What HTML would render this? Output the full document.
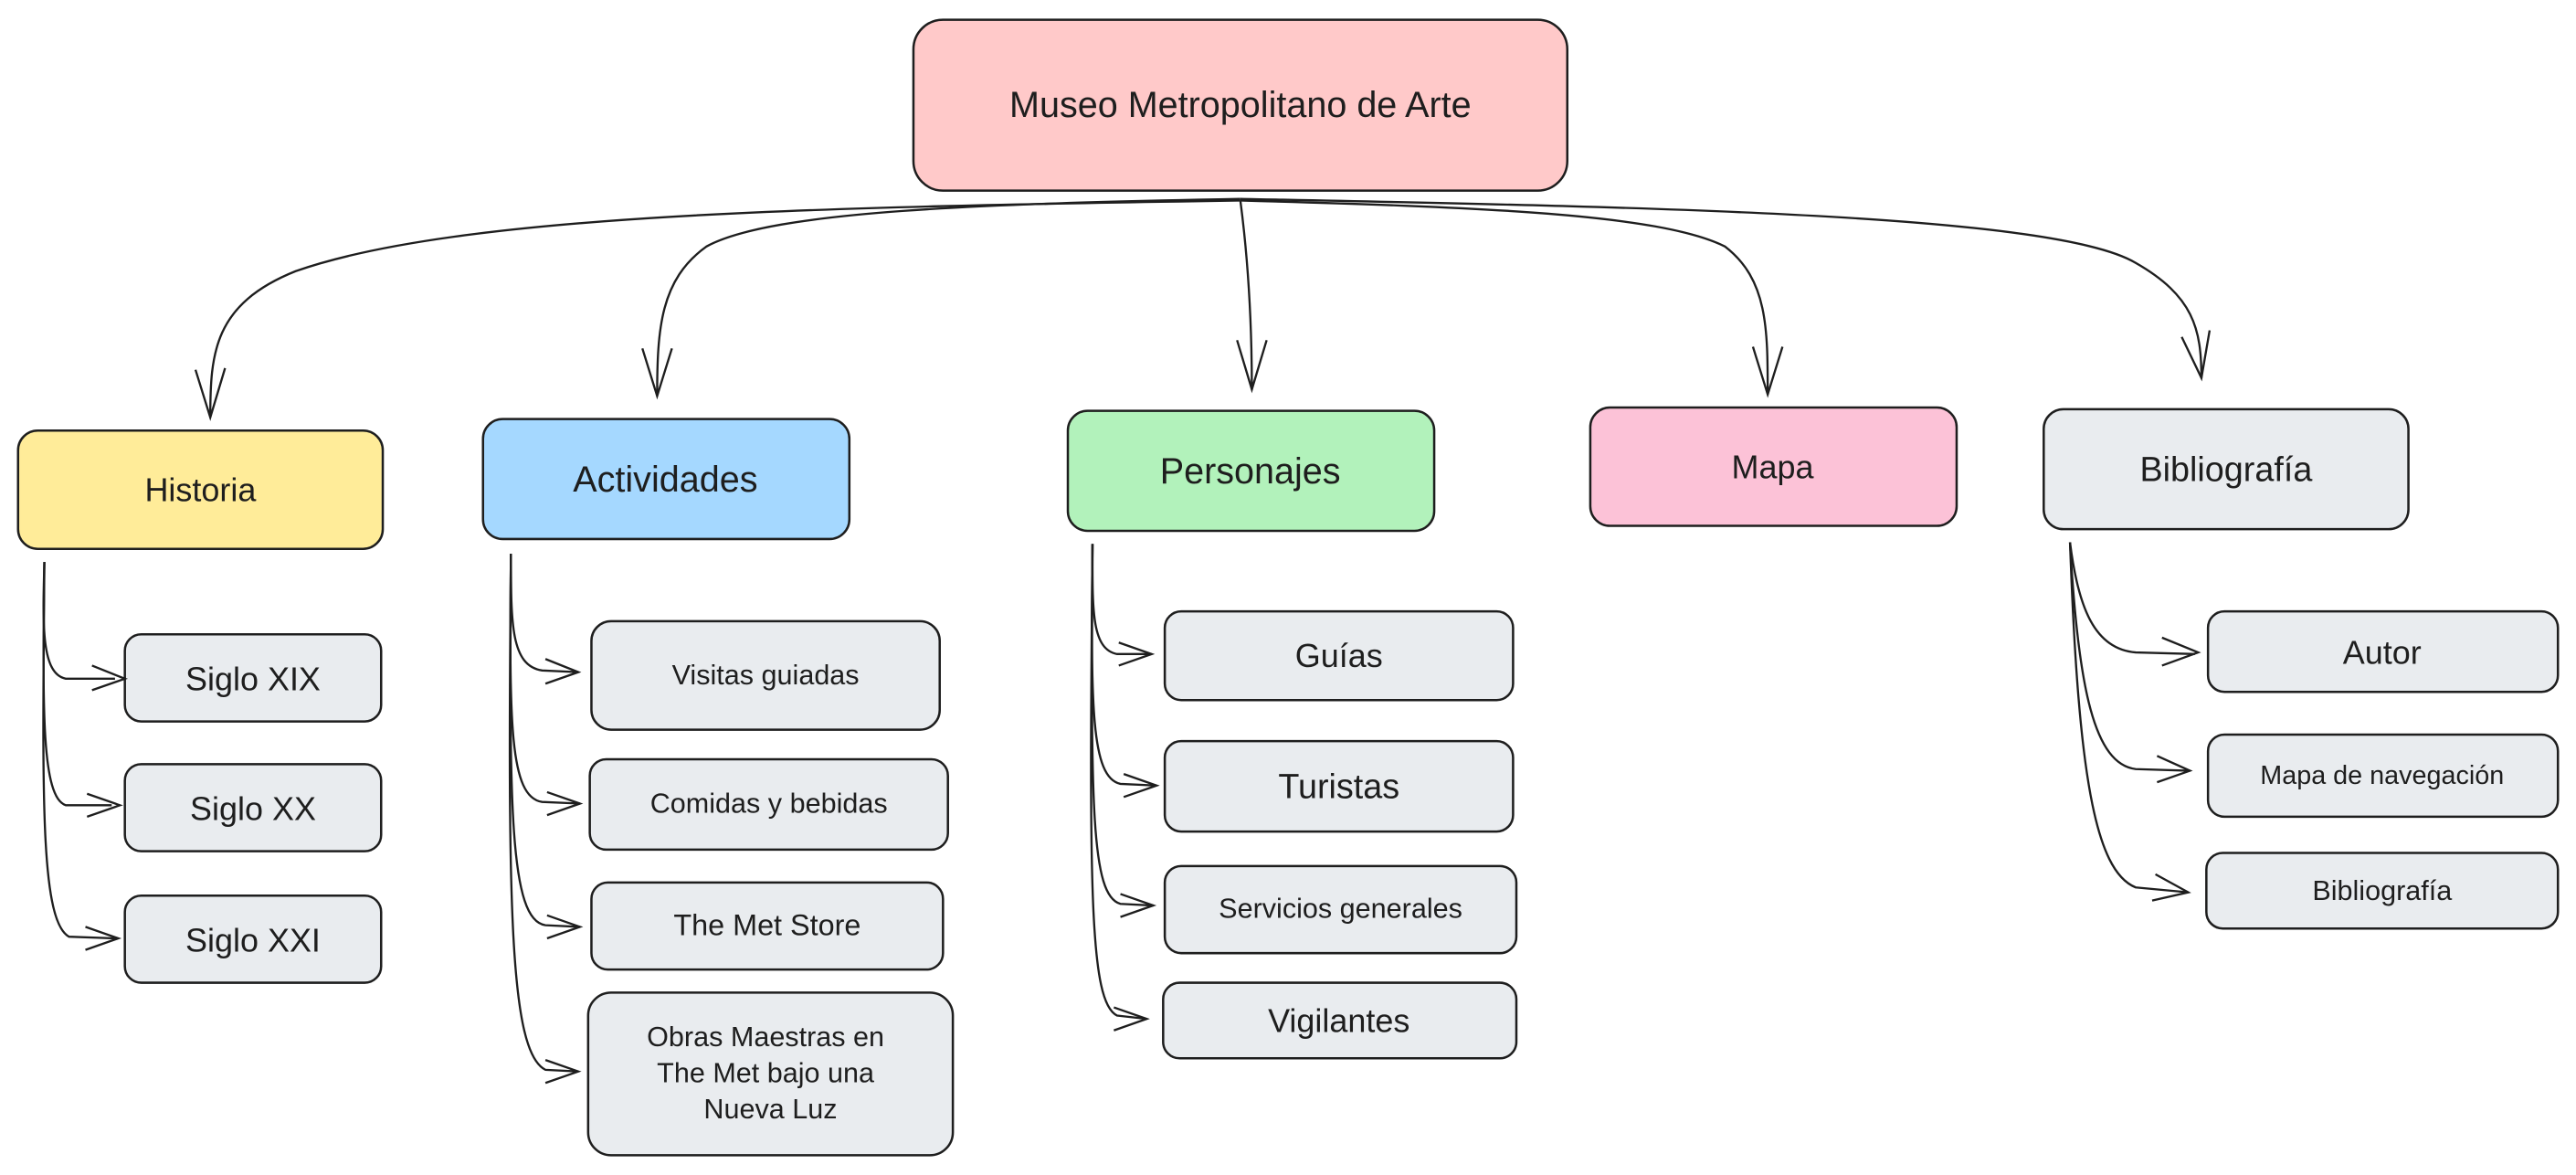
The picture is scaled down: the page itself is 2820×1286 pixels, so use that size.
<!DOCTYPE html>
<html><head><meta charset="utf-8"><style>
html,body{margin:0;padding:0;background:#fff;}
svg{display:block;}
text{font-family:"Liberation Sans",sans-serif;fill:#1e1e1e;text-anchor:middle;dominant-baseline:central;}
.b{stroke:#1e1e1e;stroke-width:1.4;}
.c{fill:none;stroke:#1e1e1e;stroke-width:1.3;}
</style></head><body>
<svg width="2820" height="1286" viewBox="0 0 1568 715" preserveAspectRatio="none" xmlns="http://www.w3.org/2000/svg">
<!-- main -->
<rect class="b" x="556" y="12" width="398" height="104" rx="18" fill="#ffc9c9"/>
<text x="755" y="64" font-size="22">Museo Metropolitano de Arte</text>
<!-- top connectors -->
<path class="c" d="M755 122 C500 126 280 130 180 165 C130 185 128 215 128 254"/>
<path class="c" d="M755 121 C600 124 470 128 430 150 C402 170 400 200 400 241"/>
<path class="c" d="M755 122 C760 160 762 200 762 237"/>
<path class="c" d="M755 122 C900 126 1010 130 1050 150 C1076 170 1076 200 1076 240"/>
<path class="c" d="M755 121 C1000 126 1250 130 1300 160 C1335 180 1340 200 1340 230"/>
<path class="c" d="M119 225 L128 254 L137 224"/>
<path class="c" d="M391 212 L400 241 L409 212"/>
<path class="c" d="M753 207 L762 237 L771 207"/>
<path class="c" d="M1067 211 L1076 240 L1085 211"/>
<path class="c" d="M1328 205 L1340 230 L1345 201"/>
<!-- parents -->
<rect class="b" x="11" y="262" width="222" height="72" rx="12" fill="#ffec99"/>
<text x="122" y="298" font-size="20">Historia</text>
<rect class="b" x="294" y="255" width="223" height="73" rx="12" fill="#a5d8ff"/>
<text x="405" y="292" font-size="22">Actividades</text>
<rect class="b" x="650" y="250" width="223" height="73" rx="12" fill="#b2f2bb"/>
<text x="761" y="287" font-size="22">Personajes</text>
<rect class="b" x="968" y="248" width="223" height="72" rx="12" fill="#fcc2d7"/>
<text x="1079" y="284" font-size="20">Mapa</text>
<rect class="b" x="1244" y="249" width="222" height="73" rx="12" fill="#e9ecef"/>
<text x="1355" y="286" font-size="21">Bibliografía</text>
<!-- Historia children -->
<g fill="#e9ecef">
<rect class="b" x="76" y="386" width="156" height="53" rx="10"/>
<rect class="b" x="76" y="465" width="156" height="53" rx="10"/>
<rect class="b" x="76" y="545" width="156" height="53" rx="10"/>
<rect class="b" x="360" y="378" width="212" height="66" rx="12"/>
<rect class="b" x="359" y="462" width="218" height="55" rx="10"/>
<rect class="b" x="360" y="537" width="214" height="53" rx="10"/>
<rect class="b" x="358" y="604" width="222" height="99" rx="14"/>
<rect class="b" x="709" y="372" width="212" height="54" rx="10"/>
<rect class="b" x="709" y="451" width="212" height="55" rx="10"/>
<rect class="b" x="709" y="527" width="214" height="53" rx="10"/>
<rect class="b" x="708" y="598" width="215" height="46" rx="10"/>
<rect class="b" x="1344" y="372" width="213" height="49" rx="10"/>
<rect class="b" x="1344" y="447" width="213" height="50" rx="10"/>
<rect class="b" x="1343" y="519" width="214" height="46" rx="10"/>
</g>
<text x="154" y="413" font-size="20">Siglo XIX</text>
<text x="154" y="492" font-size="20">Siglo XX</text>
<text x="154" y="572" font-size="20">Siglo XXI</text>
<text x="466" y="411" font-size="17">Visitas guiadas</text>
<text x="468" y="489" font-size="17">Comidas y bebidas</text>
<text x="467" y="563" font-size="18">The Met Store</text>
<text x="466" y="631" font-size="17">Obras Maestras en</text>
<text x="466" y="653" font-size="17">The Met bajo una</text>
<text x="469" y="675" font-size="17">Nueva Luz</text>
<text x="815" y="399" font-size="20">Guías</text>
<text x="815" y="479" font-size="21">Turistas</text>
<text x="816" y="553" font-size="17">Servicios generales</text>
<text x="815" y="621" font-size="20">Vigilantes</text>
<text x="1450" y="397" font-size="20">Autor</text>
<text x="1450" y="472" font-size="16">Mapa de navegación</text>
<text x="1450" y="542" font-size="17">Bibliografía</text>
<!-- child connectors -->
<path class="c" d="M27 342 C26 380 25 410 40 413 L70 413"/>
<path class="c" d="M27 342 C26 430 25 485 40 490 L68 490"/>
<path class="c" d="M27 342 C26 480 24 560 42 570 L70 571"/>
<path class="c" d="M56 405 L76 413 L56 420"/>
<path class="c" d="M53 483 L73 490 L53 497"/>
<path class="c" d="M52 564 L72 571 L52 578"/>
<path class="c" d="M311 337 C311 380 311 405 330 408 L352 409"/>
<path class="c" d="M311 337 C310 440 310 485 330 488 L353 489"/>
<path class="c" d="M311 337 C310 490 310 560 332 563 L353 564"/>
<path class="c" d="M311 337 C309 550 310 640 332 651 L352 652"/>
<path class="c" d="M332 401 L352 409 L332 416"/>
<path class="c" d="M333 482 L353 489 L333 496"/>
<path class="c" d="M333 557 L353 564 L333 571"/>
<path class="c" d="M332 645 L352 652 L332 659"/>
<path class="c" d="M665 331 C665 370 664 395 680 398 L701 398"/>
<path class="c" d="M665 331 C664 430 664 473 682 477 L704 478"/>
<path class="c" d="M665 331 C664 490 664 545 682 550 L702 551"/>
<path class="c" d="M665 331 C663 540 663 610 680 618 L698 620"/>
<path class="c" d="M681 391 L701 398 L681 405"/>
<path class="c" d="M684 471 L704 478 L684 485"/>
<path class="c" d="M682 544 L702 551 L682 558"/>
<path class="c" d="M678 613 L698 620 L678 627"/>
<path class="c" d="M1260 330 C1265 370 1275 395 1300 397 L1336 398"/>
<path class="c" d="M1260 330 C1265 420 1275 465 1300 468 L1333 469"/>
<path class="c" d="M1260 330 C1265 470 1275 530 1300 540 L1332 543"/>
<path class="c" d="M1316 388 L1338 397 L1316 405"/>
<path class="c" d="M1313 460 L1333 469 L1313 476"/>
<path class="c" d="M1312 532 L1332 543 L1310 548"/>
</svg>
</body></html>
